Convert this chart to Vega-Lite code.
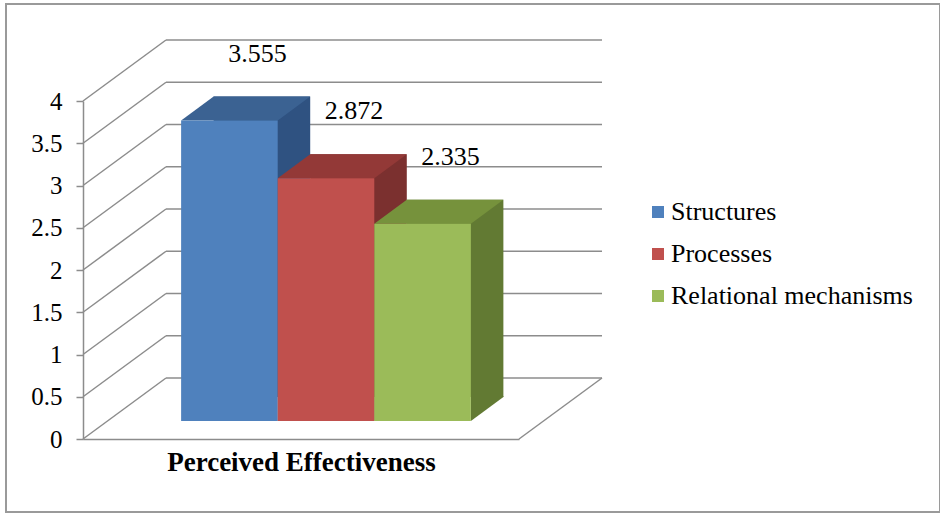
{
  "$schema": "https://vega.github.io/schema/vega-lite/v6.json",
  "width": 934,
  "height": 508,
  "autosize": "none",
  "padding": {"left": 6, "top": 4, "right": 0, "bottom": 2},
  "background": "white",
  "config": {
    "view": {"stroke": "#9a9a9a", "strokeWidth": 2},
    "font": "Liberation Serif"
  },
  "datasets": {
    "scores": [
      {"series": "Structures", "value": 3.555},
      {"series": "Processes", "value": 2.872},
      {"series": "Relational mechanisms", "value": 2.335}
    ],
    "gridlines": [
      {"v": 0}, {"v": 0.5}, {"v": 1}, {"v": 1.5}, {"v": 2},
      {"v": 2.5}, {"v": 3}, {"v": 3.5}, {"v": 4}
    ]
  },
  "resolve": {"scale": {"x": "independent"}},
  "layer": [
    {
      "data": {"name": "gridlines"},
      "encoding": {
        "x": {"datum": 0, "type": "quantitative", "scale": {"domain": [0, 1], "range": [77, 513], "nice": false, "zero": false}, "axis": null},
        "y": {
          "field": "v", "type": "quantitative",
          "scale": {"domain": [0, 4], "range": [435, 97], "nice": false},
          "axis": {
            "orient": "left", "offset": -77, "title": null,
            "values": [0, 0.5, 1, 1.5, 2, 2.5, 3, 3.5, 4], "format": "~g",
            "grid": false, "domainColor": "#8c8c8c", "domainWidth": 1.5,
            "tickColor": "#8c8c8c", "tickWidth": 1.5, "tickSize": 7,
            "labelFont": "Liberation Serif", "labelFontSize": 25, "labelColor": "black", "labelPadding": 14
          }
        }
      },
      "layer": [
        {
          "mark": {"type": "rule", "color": "#8c8c8c", "strokeWidth": 1.5, "xOffset": 83, "x2Offset": 83, "yOffset": -61},
          "encoding": {"x2": {"datum": 1}}
        },
        {
          "mark": {"type": "rule", "color": "#8c8c8c", "strokeWidth": 1.5, "x2Offset": 83, "y2Offset": -61},
          "encoding": {"x2": {"datum": 0}, "y2": {"field": "v"}}
        },
        {
          "transform": [{"filter": "datum.v === 0"}],
          "mark": {"type": "rule", "color": "#8c8c8c", "strokeWidth": 1.5, "x2Offset": 83, "y2Offset": -61},
          "encoding": {"x": {"datum": 1, "type": "quantitative"}, "x2": {"datum": 1}, "y2": {"field": "v"}}
        }
      ]
    },
    {
      "data": {"name": "scores"},
      "encoding": {
        "x": {
          "field": "series", "type": "nominal",
          "scale": {"domain": ["Structures", "Processes", "Relational mechanisms"], "range": [77, 513], "paddingOuter": 0.757, "paddingInner": 0},
          "axis": {
            "orient": "bottom", "offset": -73, "labels": false, "ticks": false, "tickSize": 0,
            "domainColor": "#8c8c8c", "domainWidth": 1.5,
            "title": "Perceived Effectiveness", "titleFont": "Liberation Serif", "titleFontSize": 27,
            "titleFontWeight": "bold", "titleColor": "black", "titleBaseline": "alphabetic", "titleY": 31
          }
        },
        "y": {
          "field": "value", "type": "quantitative",
          "scale": {"domain": [0, 4], "range": [435, 97], "nice": false},
          "axis": {
            "orient": "left", "offset": -77, "title": null,
            "values": [0, 0.5, 1, 1.5, 2, 2.5, 3, 3.5, 4], "format": "~g",
            "grid": false, "domainColor": "#8c8c8c", "domainWidth": 1.5,
            "tickColor": "#8c8c8c", "tickWidth": 1.5, "tickSize": 7,
            "labelFont": "Liberation Serif", "labelFontSize": 25, "labelColor": "black", "labelPadding": 14
          }
        }
      },
      "layer": [
        {
          "mark": {"type": "bar", "xOffset": 57.5, "yOffset": -42, "y2Offset": -42},
          "encoding": {
            "y2": {"datum": 0},
            "fill": {
              "condition": [
                {"test": "datum.series === 'Structures'", "value": "#2f5281"},
                {"test": "datum.series === 'Processes'", "value": "#7b302f"}
              ],
              "value": "#627a33"
            }
          }
        },
        {
          "mark": {
            "type": "point", "filled": true, "opacity": 1, "size": 4, "strokeWidth": 0,
            "shape": "M48.3 -25 L80.8 -25 L80.8 -24 L48.3 0 Z",
            "xOffset": 25, "yOffset": -18
          },
          "encoding": {
            "y": {"datum": 0, "type": "quantitative"},
            "fill": {
              "condition": [
                {"test": "datum.series === 'Structures'", "value": "#2f5281"},
                {"test": "datum.series === 'Processes'", "value": "#7b302f"}
              ],
              "value": "#627a33"
            }
          }
        },
        {
          "mark": {
            "type": "point", "filled": true, "opacity": 1, "size": 4, "strokeWidth": 0,
            "shape": "M-48.3 0 L48.3 0 L80.8 -24 L-15.8 -24 Z",
            "xOffset": 25, "yOffset": -18
          },
          "encoding": {
            "fill": {
              "condition": [
                {"test": "datum.series === 'Structures'", "value": "#3b6292"},
                {"test": "datum.series === 'Processes'", "value": "#933937"}
              ],
              "value": "#76923c"
            }
          }
        },
        {
          "mark": {"type": "bar", "xOffset": 25, "yOffset": -18, "y2Offset": -18},
          "encoding": {
            "y2": {"datum": 0},
            "color": {
              "field": "series", "type": "nominal",
              "scale": {"domain": ["Structures", "Processes", "Relational mechanisms"], "range": ["#4f81bd", "#c0504d", "#9bbb59"]},
              "legend": {
                "orient": "none", "legendX": 639, "legendY": 195, "title": null,
                "symbolType": "square", "symbolSize": 144, "symbolStrokeWidth": 0, "symbolOpacity": 1,
                "labelFont": "Liberation Serif", "labelFontSize": 26, "labelColor": "black", "labelLimit": 0,
                "labelOffset": 0, "rowPadding": 16, "padding": 0
              }
            }
          }
        },
        {
          "mark": {"type": "text", "font": "Liberation Serif", "fontSize": 26, "color": "black", "align": "center", "baseline": "alphabetic", "xOffset": 53, "yOffset": -77},
          "encoding": {"text": {"field": "value", "type": "quantitative", "format": ".3f"}}
        }
      ]
    }
  ]
}
